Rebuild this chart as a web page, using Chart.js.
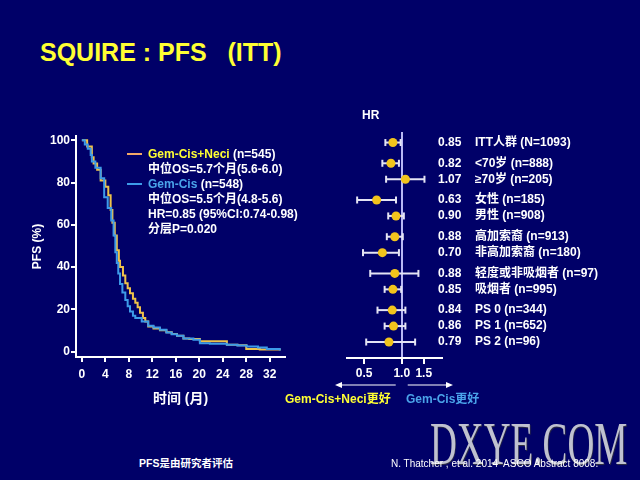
<!DOCTYPE html>
<html>
<head>
<meta charset="utf-8">
<script src="https://cdn.jsdelivr.net/npm/chart.js@4.4.1/dist/chart.umd.min.js"></script>
<style>
  html, body { margin: 0; padding: 0; }
  body {
    width: 640px; height: 480px; overflow: hidden; position: relative;
    background: #000068; color: #fff;
    font-family: "Liberation Sans", "Noto Sans CJK SC", sans-serif;
    font-weight: bold;
  }
  .abs { position: absolute; white-space: pre; }
  canvas { position: absolute; }
</style>
</head>
<body>
<div class="abs" style="left:40px;top:40px;font-size:25px;line-height:25px;color:#ffff33;">SQUIRE : PFS   (ITT)</div>

<canvas id="kmChart" width="320" height="320" style="left:0;top:100px;"></canvas>
<canvas id="forestChart" width="340" height="320" style="left:300px;top:100px;"></canvas>

<!-- legend of the KM plot -->
<div class="abs" style="left:127px;top:153px;width:15px;height:2px;background:#f2a868;"></div>
<div class="abs" style="left:127px;top:183px;width:15px;height:2px;background:#3d9be9;"></div>
<div class="abs" style="left:148px;top:147px;font-size:12px;line-height:15px;"><span style="color:#ffff33">Gem-Cis+Neci</span> (n=545)
中位OS=5.7个月(5.6-6.0)
<span style="color:#4aa3ea">Gem-Cis</span> (n=548)
中位OS=5.5个月(4.8-5.6)
HR=0.85 (95%CI:0.74-0.98)
分层P=0.020</div>

<div class="abs" style="left:362px;top:108px;font-size:12px;">HR</div>
<div class="abs" style="left:285px;top:389px;font-size:12px;color:#ffff33;">Gem-Cis+Neci更好</div>
<div class="abs" style="left:406px;top:389px;font-size:12px;color:#4aa3ea;">Gem-Cis更好</div>

<div class="abs" style="left:430px;top:412px;font-family:'Liberation Serif',serif;font-weight:normal;font-size:62px;line-height:62px;color:#bfc1d0;transform:scaleX(0.6);transform-origin:left top;text-shadow:1px 1px 1px #303040;">DXYE.COM</div>
<div class="abs" style="left:139px;top:455px;font-size:10.5px;">PFS是由研究者评估</div>
<div class="abs" style="left:391px;top:458px;font-size:10px;font-weight:normal;">N. Thatcher , et al. 2014  ASCO Abstract 8008.</div>

<script>
// KM curves (PFS): [month, % progression-free]
const neciMonths = [0, 0.9, 1.7, 2.0, 2.6, 3.2, 4.0, 4.5, 4.9, 5.2, 5.6, 5.95, 6.3, 6.5, 7.0, 7.4, 7.8, 8.2, 8.7, 9.1, 9.5, 9.9, 10.4, 10.8, 11.3, 12.2, 13.3, 14.4, 15.3, 16.2, 17.3, 18.3, 20.1, 24.7, 26.5, 28.0, 30.3, 33.7];
const neciPfs    = [100, 97, 92, 89, 86, 81, 78, 74, 67, 61, 55, 48, 43, 40, 36, 32.4, 30, 27.7, 25, 23.1, 21, 18.4, 16, 14.3, 11.9, 11, 10.2, 9.2, 8.4, 7.6, 6.3, 6.0, 4.9, 3.3, 3.0, 1.3, 1.0, 0.6];
const cisMonths  = [0, 0.5, 1.0, 1.5, 1.7, 2.3, 3.2, 3.8, 4.4, 5.0, 5.4, 5.7, 5.95, 6.2, 6.5, 6.9, 7.4, 7.8, 8.2, 8.7, 9.1, 10.2, 11.3, 12.2, 13.3, 14.4, 15.3, 16.2, 17.3, 19.0, 20.1, 21.8, 24.7, 26.5, 28.1, 30.0, 31.5, 33.7];
const cisPfs     = [100, 98, 96, 93, 90, 87, 82, 73, 68, 62, 55, 47, 42, 37, 32, 28, 24.5, 21.5, 19, 17, 16, 14.3, 12.3, 11.5, 10.4, 9.1, 8.2, 7.5, 6.2, 5.7, 4.0, 3.8, 3.3, 2.9, 2.5, 2.0, 1.3, 0.6];
const monthTicks = [0, 4, 8, 12, 16, 20, 24, 28, 32];
const pfsTicks   = [0, 20, 40, 60, 80, 100];

// Forest plot (subgroup HR)
const subgroups = ['ITT人群 (N=1093)', '<70岁 (n=888)', '≥70岁 (n=205)', '女性 (n=185)', '男性 (n=908)',
                   '高加索裔 (n=913)', '非高加索裔 (n=180)', '轻度或非吸烟者 (n=97)', '吸烟者 (n=995)',
                   'PS 0 (n=344)', 'PS 1 (n=652)', 'PS 2 (n=96)'];
const groupOf  = [0, 1, 1, 2, 2, 3, 3, 4, 4, 5, 5, 5];
const hrValues = [0.85, 0.82, 1.07, 0.63, 0.90, 0.88, 0.70, 0.88, 0.85, 0.84, 0.86, 0.79];
const ciLow    = [0.74, 0.70, 0.75, 0.44, 0.78, 0.76, 0.49, 0.56, 0.73, 0.64, 0.73, 0.52];
const ciHigh   = [0.98, 0.95, 1.52, 0.90, 1.04, 1.02, 0.95, 1.36, 0.99, 1.07, 1.07, 1.28];
const hrTicks  = [0.5, 1.0, 1.5];

const FONT = '"Liberation Sans", "Noto Sans CJK SC", sans-serif';
const GROUP_GAP = 0.3;
const rowPos = subgroups.map((s, i) => i + groupOf[i] * GROUP_GAP);

function toPoints(xs, ys) {
    return xs.map((x, i) => ({ x: x, y: ys[i] }));
}

// ---- Kaplan-Meier chart ----
new Chart(document.getElementById('kmChart'), {
    type: 'line',
    data: {
        datasets: [
            {
                label: 'Gem-Cis',
                data: toPoints(cisMonths, cisPfs),
                borderColor: '#3d9be9',
                borderWidth: 2,
                stepped: true,
                pointRadius: 0
            },
            {
                label: 'Gem-Cis+Neci',
                data: toPoints(neciMonths, neciPfs),
                borderColor: '#eec24a',
                borderWidth: 2,
                stepped: true,
                pointRadius: 0
            }
        ]
    },
    options: {
        responsive: false,
        animation: false,
        devicePixelRatio: 1,
        layout: { padding: { left: 0, top: 36, right: 35, bottom: 0 } },
        plugins: { legend: { display: false }, tooltip: { enabled: false } },
        scales: {
            x: {
                type: 'linear',
                min: -1,
                max: 34.6,
                afterBuildTicks: s => { s.ticks = monthTicks.map(v => ({ value: v })); },
                afterFit: s => { s.height = 63; },
                border: { color: '#ffffff', width: 2 },
                grid: { drawOnChartArea: false, color: '#ffffff', tickLength: 5, lineWidth: 2 },
                ticks: { color: '#ffffff', font: { family: FONT, size: 12, weight: 'bold' }, padding: 5, maxRotation: 0, autoSkip: false },
                title: { display: true, text: '时间 (月)', color: '#ffffff', font: { family: FONT, size: 14, weight: 'bold' }, padding: { top: 0, bottom: 12 } }
            },
            y: {
                min: -2.5,
                max: 102,
                afterBuildTicks: s => { s.ticks = pfsTicks.map(v => ({ value: v })); },
                afterFit: s => { s.width = 76; },
                border: { color: '#ffffff', width: 2 },
                grid: { drawOnChartArea: false, color: '#ffffff', tickLength: 5, lineWidth: 2 },
                ticks: { color: '#ffffff', font: { family: FONT, size: 12, weight: 'bold' }, padding: 1 },
                title: { display: true, text: 'PFS (%)', color: '#ffffff', font: { family: FONT, size: 12, weight: 'bold' }, padding: { top: 30, bottom: 0 } }
            }
        }
    }
});

// ---- Forest plot ----
const forestText = {
    id: 'forestText',
    afterDraw(chart) {
        const { ctx, chartArea, scales: { x, y } } = chart;
        ctx.save();
        ctx.font = 'bold 12px ' + FONT;
        ctx.fillStyle = '#ffffff';
        ctx.textBaseline = 'middle';
        rowPos.forEach((p, i) => {
            const py = y.getPixelForValue(p);
            ctx.fillText(hrValues[i].toFixed(2), chartArea.right - 4, py);
            ctx.fillText(subgroups[i], chartArea.right + 33, py);
        });
        // direction arrows under the axis
        const ay = chartArea.bottom + 27;
        const x1 = x.getPixelForValue(1);
        ctx.strokeStyle = '#ffffff';
        ctx.fillStyle = '#ffffff';
        ctx.lineWidth = 1.2;
        ctx.beginPath();
        ctx.moveTo(chartArea.left - 8, ay); ctx.lineTo(x1 - 6, ay);
        ctx.moveTo(x1 + 6, ay); ctx.lineTo(chartArea.right + 7, ay);
        ctx.stroke();
        ctx.beginPath();
        ctx.moveTo(chartArea.left - 12, ay); ctx.lineTo(chartArea.left - 5, ay - 3); ctx.lineTo(chartArea.left - 5, ay + 3);
        ctx.closePath();
        ctx.moveTo(chartArea.right + 11, ay); ctx.lineTo(chartArea.right + 4, ay - 3); ctx.lineTo(chartArea.right + 4, ay + 3);
        ctx.closePath();
        ctx.fill();
        ctx.restore();
    }
};

const ciSets = rowPos.map((p, i) => ({
    type: 'line',
    data: [{ x: ciLow[i], y: p }, { x: ciHigh[i], y: p }],
    borderColor: '#e4e4f4',
    borderWidth: 2,
    pointStyle: 'line',
    rotation: 90,
    pointRadius: 3.5,
    pointBorderWidth: 2,
    pointBorderColor: '#e4e4f4'
}));

new Chart(document.getElementById('forestChart'), {
    type: 'scatter',
    data: {
        datasets: [
            {
                label: 'HR',
                data: rowPos.map((p, i) => ({ x: hrValues[i], y: p })),
                backgroundColor: '#f2c41c',
                borderWidth: 0,
                pointRadius: 4.5
            },
            ...ciSets
        ]
    },
    options: {
        responsive: false,
        animation: false,
        devicePixelRatio: 1,
        layout: { padding: { left: 47, top: 32, right: 198, bottom: 0 } },
        plugins: { legend: { display: false }, tooltip: { enabled: false } },
        scales: {
            x: {
                type: 'logarithmic',
                min: 0.365,
                max: 2.1,
                afterBuildTicks: s => { s.ticks = hrTicks.map(v => ({ value: v })); },
                afterFit: s => { s.height = 62; },
                border: { color: '#ffffff', width: 2 },
                grid: {
                    color: c => (c.tick && c.tick.value === 1 ? '#b8b8f4' : 'rgba(0,0,0,0)'),
                    tickColor: '#ffffff',
                    lineWidth: 2,
                    tickLength: 6
                },
                ticks: {
                    color: '#ffffff',
                    font: { family: FONT, size: 12, weight: 'bold' },
                    padding: 2,
                    maxRotation: 0,
                    autoSkip: false,
                    callback: v => Number(v).toFixed(1)
                }
            },
            y: {
                display: false,
                reverse: true,
                min: -0.66,
                max: 13.5
            }
        }
    },
    plugins: [forestText]
});
</script>
</body>
</html>
